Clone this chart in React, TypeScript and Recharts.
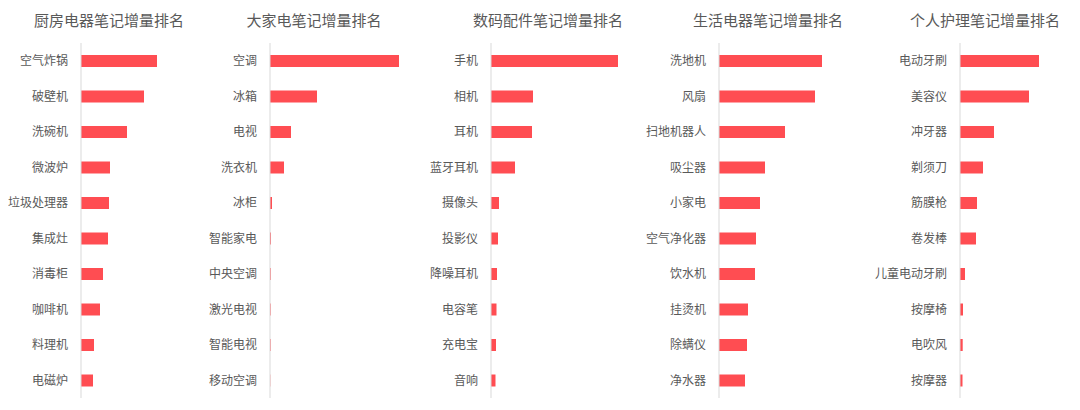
import { Bar, BarChart, XAxis, YAxis } from "recharts";

// 数值按图中条形长度读取（相对值）
const kitchenCats = ["空气炸锅", "破壁机", "洗碗机", "微波炉", "垃圾处理器", "集成灶", "消毒柜", "咖啡机", "料理机", "电磁炉"];
const kitchenVals = [76, 63, 46, 29, 28, 27, 22, 19, 13, 12];

const bigCats = ["空调", "冰箱", "电视", "洗衣机", "冰柜", "智能家电", "中央空调", "激光电视", "智能电视", "移动空调"];
const bigVals = [129, 47, 21, 14, 2, 1, 0.8, 0.7, 0.7, 0.3];

const digitalCats = ["手机", "相机", "耳机", "蓝牙耳机", "摄像头", "投影仪", "降噪耳机", "电容笔", "充电宝", "音响"];
const digitalVals = [127, 42, 41, 24, 8, 7, 6, 5.5, 5, 4.5];

const lifeCats = ["洗地机", "风扇", "扫地机器人", "吸尘器", "小家电", "空气净化器", "饮水机", "挂烫机", "除螨仪", "净水器"];
const lifeVals = [103, 96, 66, 46, 41, 37, 36, 29, 28, 26];

const careCats = ["电动牙刷", "美容仪", "冲牙器", "剃须刀", "筋膜枪", "卷发棒", "儿童电动牙刷", "按摩椅", "电吹风", "按摩器"];
const careVals = [79, 69, 34, 23, 17, 16, 5, 3, 2.7, 2.5];

const panels = [
  { title: "厨房电器笔记增量排名", cats: kitchenCats, vals: kitchenVals, left: 0, axisX: 81, titleX: 109 },
  { title: "大家电笔记增量排名", cats: bigCats, vals: bigVals, left: 216, axisX: 270, titleX: 314 },
  { title: "数码配件笔记增量排名", cats: digitalCats, vals: digitalVals, left: 432, axisX: 491, titleX: 548 },
  { title: "生活电器笔记增量排名", cats: lifeCats, vals: lifeVals, left: 648, axisX: 719, titleX: 768 },
  { title: "个人护理笔记增量排名", cats: careCats, vals: careVals, left: 864, axisX: 960, titleX: 985 },
];

const font = "'Noto Sans CJK SC', 'Noto Sans', sans-serif";
const textColor = "#595959";
const barColor = "#FF4D52";
const W = 216;
const H = 410;

function Panel({ p }: { p: (typeof panels)[number] }) {
  const yw = p.axisX - p.left;
  const plotW = W - yw;
  const data = p.cats.map((c, i) => ({ name: c, value: p.vals[i] }));
  return (
    <div style={{ position: "absolute", left: p.left, top: 0, width: W, height: H }}>
      <div
        style={{
          position: "absolute", left: p.titleX - p.left - 80, width: 160, top: 10,
          textAlign: "center", fontSize: 15, color: textColor, fontFamily: font, lineHeight: "20px",
        }}
      >
        {p.title}
      </div>
      <BarChart
        width={W}
        height={H}
        data={data}
        layout="vertical"
        margin={{ top: 43, right: 0, bottom: 12, left: 0 }}
        barCategoryGap={0}
      >
        <XAxis type="number" domain={[0, plotW]} hide />
        <YAxis
          type="category"
          dataKey="name"
          width={yw}
          tickLine={false}
          axisLine={{ stroke: "#d9d9d9" }}
          tickMargin={7}
          interval={0}
          tick={{ fill: textColor, fontSize: 12, fontFamily: font }}
        />
        <Bar dataKey="value" fill={barColor} barSize={12} isAnimationActive={false} />
      </BarChart>
    </div>
  );
}

export default function App() {
  return (
    <div style={{ position: "relative", width: 1080, height: 410, background: "#fff", margin: -8 }}>
      <style>{`.recharts-wrapper, .recharts-surface { overflow: visible !important; }`}</style>
      {panels.map((p) => (
        <Panel key={p.title} p={p} />
      ))}
    </div>
  );
}
